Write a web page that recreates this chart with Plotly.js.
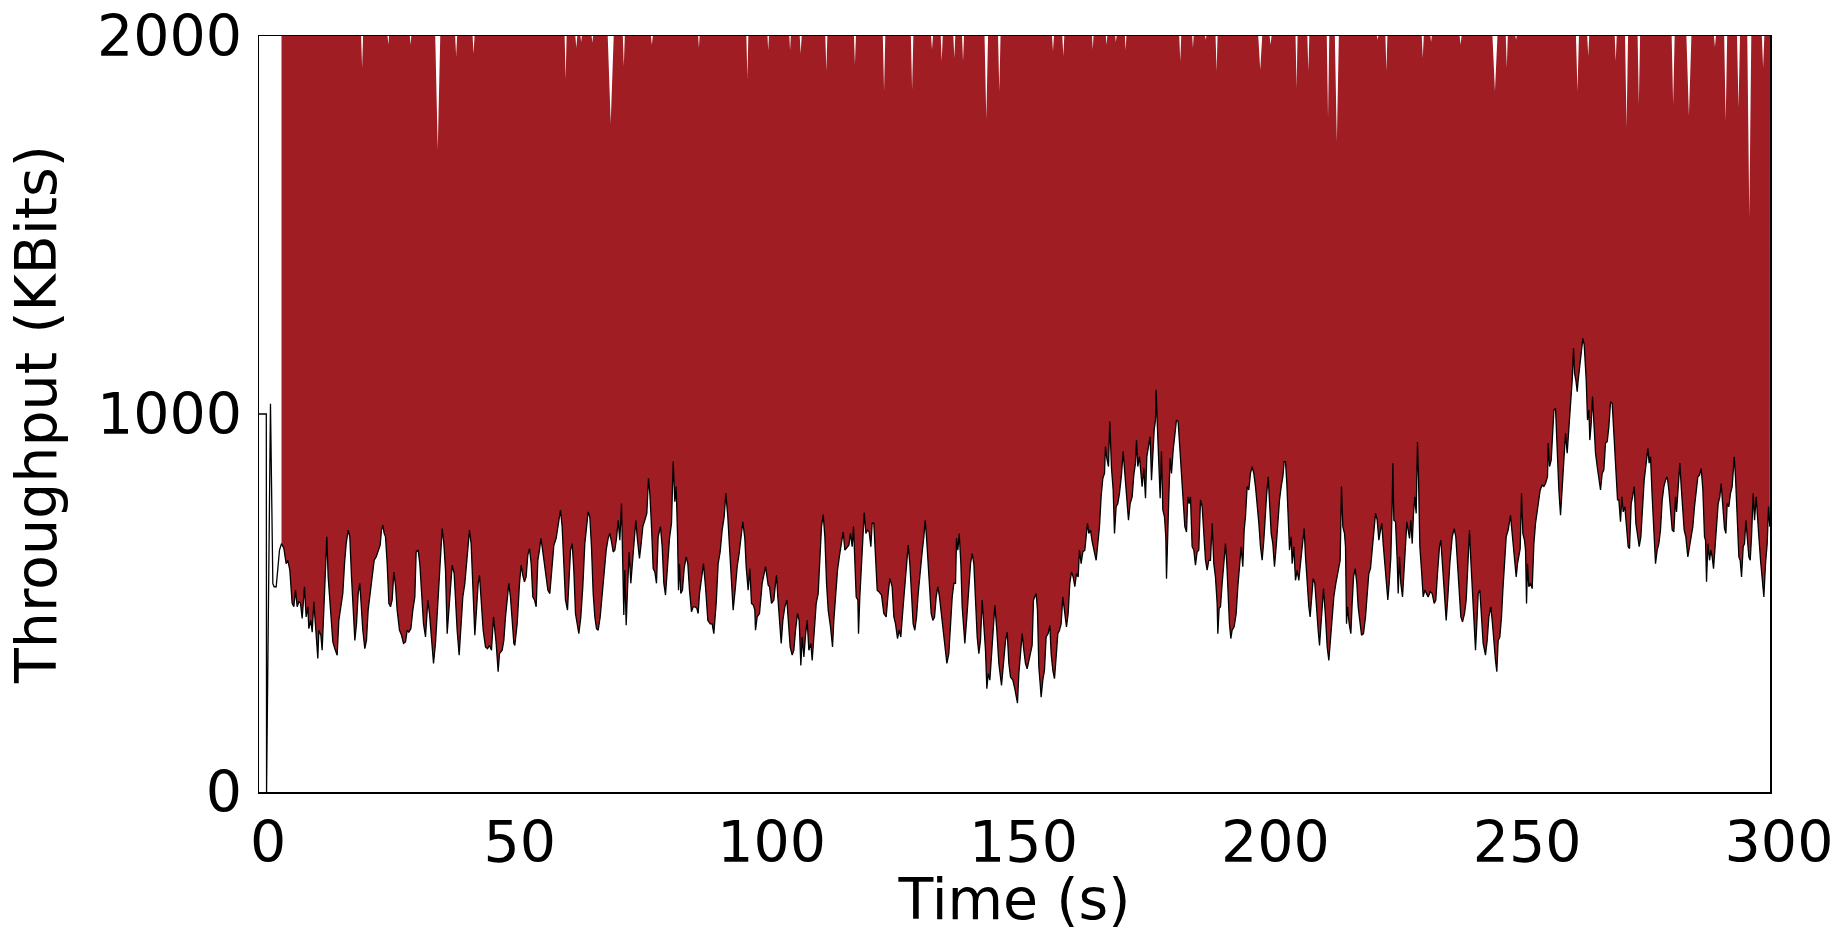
<!DOCTYPE html>
<html><head><meta charset="utf-8">
<script src="https://cdn.plot.ly/plotly-3.0.1.min.js"></script>
<style>html,body{margin:0;padding:0;background:#fff;}#chart{width:1840px;height:932px;}</style>
</head><body><div id="chart"></div>
<script>
// start-up phase (before the red band starts)
const startTime = [0, 1.45, 1.5, 2.28, 2.75, 3.0, 3.41, 3.8, 4.07];
const startKbit = [1000, 1000, 0, 1027, 551, 543, 543, 600, 640];

// lower envelope of throughput, seconds / KBits
const seg1Time = [4.47,4.93,5.39,5.72,6.12,6.58,6.92,7.25,7.58,7.91,
8.24,8.57,9.03,9.36,9.70,9.89,10.29,10.56,10.89,11.22,
11.68,11.88,12.28,12.54,12.87,13.20,13.47,13.73,14.20,14.66,
15.06,15.52,15.85,16.31,16.64,16.98,17.31,17.70,18.03,18.37,
18.70,19.03,19.36,19.69,20.02,20.35,20.61,21.01,21.34,21.67,
22.07,22.47,22.87,23.26,23.66,24.06,24.32,24.59,24.85,25.12,
25.45,25.78,26.11,26.44,26.77,27.10,27.43,27.90,28.29,28.69,
29.09,29.42,29.75,30.15,30.54,30.94,31.20,31.60,31.93,32.26,
32.66,33.06,33.52,33.85,34.25,34.65,35.04,35.37,35.70,36.03,
36.37,36.70,37.03,37.36,37.69,38.02,38.35,38.75,39.01,39.34,
39.74,40.14,40.47,40.87,41.20,41.53,41.79,42.12,42.45,42.85,
43.18,43.51,43.78,44.18,44.51,44.97,45.37,45.76,46.16,46.56,
46.82,47.09,47.48,47.75,48.28,48.61,48.94,49.34,49.60,49.93,
50.26,50.60];
const seg1Kbit = [657,645,604,613,587,499,490,534,490,503,
499,459,543,463,490,432,454,423,503,441,
353,428,415,375,490,587,675,569,472,397,
379,362,454,499,525,604,657,693,675,569,
463,401,445,525,552,472,428,379,401,481,
525,569,613,622,640,653,693,706,684,675,
604,499,490,508,582,547,481,428,415,393,
397,428,423,432,481,516,635,640,604,516,
445,410,508,472,393,340,393,463,534,622,
697,657,587,419,481,552,600,578,499,428,
362,454,516,552,604,675,693,657,534,415,
481,552,573,490,428,384,379,388,375,463,
428,393,318,366,375,401,463,516,552,516,
445,393];

const seg2Time = [50.79,51.26,51.72,52.05,52.38,52.71,53.04,53.37,53.71,54.04,
54.37,54.70,55.03,55.36,55.69,55.96,56.22,56.55,56.88,57.35,
57.74,58.07,58.54,59.00,59.40,59.86,60.19,60.52,60.85,61.25,
61.51,61.85,62.18,62.51,62.84,63.17,63.50,63.90,64.29,64.69,
65.02,65.35,65.68,66.01,66.35,66.68,67.01,67.34,67.74,68.13,
68.53,68.93,69.32,69.65,69.99,70.32,70.65,70.98,71.31,71.64,
71.97,72.24,72.43,72.63,72.90,73.16,73.49,73.82,74.16,74.49,
74.82,75.15,75.54,75.88,76.21,76.60,77.00,77.33,77.60,77.93,
78.26,78.59,78.92,79.25,79.71,80.05,80.38,80.71,81.04,81.50,
81.90,82.23,82.56,82.82,83.09,83.29,83.49,83.75,84.08,84.41,
84.81,85.14,85.47,85.87,86.20,86.53,86.93,87.19,87.46,87.85,
88.25,88.65,89.11,89.58,89.97,90.30,90.77,91.16,91.56,91.96,
92.35,92.69,93.08,93.41,93.81,94.14,94.60,94.94,95.33,95.73,
96.06,96.46,96.72,97.12,97.45,97.78,98.18,98.44,98.58,98.91,
99.37,99.90,100.43];
const seg2Kbit = [388,445,552,600,573,556,569,627,644,604,
516,508,490,613,640,671,649,613,591,534,
525,587,653,671,702,746,702,613,508,481,
552,640,657,587,472,445,419,463,543,657,
693,741,728,649,525,463,432,428,463,525,
596,640,671,684,662,635,640,671,719,666,
763,587,468,587,441,534,635,552,604,675,
719,666,618,657,702,719,737,830,790,702,
591,582,552,675,702,649,552,521,587,671,
711,874,768,808,684,534,604,525,534,591,
622,604,534,477,490,490,486,472,525,565,
604,543,454,445,445,419,499,604,635,693,
728,790,728,649,534,481,543,596,631,675,
715,671,596,534,591,499,494,481,428,463,
472,552,596];

const seg3Time = [100.57,101.10,101.36,101.76,102.22,102.55,102.75,103.01,103.35,103.68,
104.01,104.40,104.80,105.13,105.46,105.86,106.19,106.52,106.92,107.25,
107.58,107.85,108.18,108.51,108.84,109.17,109.57,109.83,110.23,110.63,
111.02,111.42,111.68,112.02,112.35,112.68,113.01,113.47,113.87,114.13,
114.46,114.86,115.26,115.65,115.99,116.32,116.78,117.11,117.44,117.77,
118.04,118.30,118.57,118.90,119.03,119.29,119.63,119.96,120.16,120.49,
120.82,121.15,121.48,121.74,122.07,122.41,122.74,123.07,123.60,124.06,
124.52,124.92,125.25,125.71,126.05,126.38,126.77,127.10,127.43,127.83,
128.23,128.56,128.89,129.22,129.55,129.88,130.21,130.55,130.88,131.27,
131.67,132.00,132.27,132.53,132.86,133.13,133.46,133.79,134.12,134.45,
134.78,135.11,135.51,135.84,136.17,136.57,136.96,137.30,137.63,137.96,
138.29,138.49,138.75,139.02,139.35,139.61,139.88,140.14,140.54,140.94,
141.27,141.60,141.93,142.26,142.59,142.92,143.25,143.58,143.91,144.24,
144.51,144.77,145.11,145.44,145.77,146.10,146.49,146.89,147.42,147.82,
148.22,148.55,148.88,149.21,149.67,150.07];
const seg3Kbit = [596,547,543,499,508,552,573,516,463,393,
454,490,508,454,384,362,375,428,472,454,
335,410,357,415,454,375,393,348,428,499,
525,622,702,734,675,552,481,437,384,454,
525,587,626,657,688,640,649,653,684,649,
702,622,516,508,419,516,613,702,739,684,
693,688,649,711,711,622,534,530,521,472,
463,525,565,543,463,445,406,428,410,481,
543,613,653,604,525,445,428,463,525,591,
635,675,719,675,604,516,472,454,463,516,
543,516,463,428,384,340,366,463,516,552,
552,671,640,684,604,490,445,393,463,552,
604,631,604,508,410,366,401,508,445,375,
273,313,296,357,428,494,428,340,282,348,
401,423,340,304,296,273];

const seg4Time = [150.20,150.59,150.86,151.19,151.52,151.85,152.18,152.51,152.84,153.17,
153.50,153.77,154.03,154.30,154.56,154.83,155.09,155.29,155.62,155.95,
156.28,156.68,157.01,157.28,157.61,157.94,158.27,158.60,158.93,159.26,
159.59,159.92,160.32,160.65,160.98,161.31,161.65,161.98,162.31,162.64,
162.90,163.23,163.56,163.96,164.23,164.49,164.76,165.09,165.42,165.75,
166.21,166.54,166.87,167.20,167.54,167.87,168.06,168.33,168.66,168.92,
169.26,169.59,169.85,170.18,170.51,170.84,171.24,171.57,171.90,172.23,
172.63,172.96,173.36,173.69,174.02,174.22,174.48,174.81,175.08,175.34,
175.68,176.01,176.27,176.67,176.93,177.20,177.46,177.73,177.99,178.12,
178.32,178.65,178.92,179.18,179.45,179.78,180.04,180.18,180.37,180.64,
180.90,181.17,181.50,181.83,182.16,182.49,182.82,183.15,183.48,183.82,
184.15,184.41,184.68,184.94,185.27,185.60,185.93,186.26,186.59,186.93,
187.26,187.59,187.92,188.25,188.58,188.91,189.24,189.57,189.90,190.23,
190.37,190.63,190.90,191.23,191.56,191.89,192.15,192.42,192.68,192.95,
193.21,193.61,194.01,194.34,194.67,195.00,195.33,195.60,195.86,196.19,
196.52,196.85,197.18,197.51,197.85,198.18,198.51,198.84,199.17,199.50,
199.70];
const seg4Kbit = [260,235,313,357,419,375,340,326,348,375,
388,508,516,525,481,331,287,251,296,322,
410,419,441,366,322,300,357,419,428,445,
516,481,437,472,552,582,569,543,578,569,
640,604,635,640,671,711,684,693,662,640,
613,657,702,781,830,843,914,883,861,980,
856,799,684,755,763,790,839,901,843,781,
719,763,781,839,870,931,861,887,843,808,
856,777,887,914,940,825,914,958,984,1064,
984,887,777,901,746,728,675,564,693,781,
883,843,904,940,984,980,914,843,773,702,
688,781,763,781,649,640,600,635,640,773,
755,675,613,587,613,613,711,604,569,499,
419,486,490,552,604,657,604,516,445,406,
428,437,472,543,587,649,596,693,728,808,
799,843,861,843,808,763,711,649,613,666,
719];

const seg5Time = [200.03,200.37,200.63,200.96,201.29,201.62,201.95,202.28,202.62,202.95,
203.28,203.54,203.81,204.07,204.34,204.60,204.93,205.13,205.46,205.79,
206.12,206.45,206.78,207.12,207.51,207.78,208.11,208.44,208.70,209.03,
209.30,209.63,209.96,210.29,210.56,210.82,211.09,211.35,211.75,212.08,
212.41,212.74,213.07,213.40,213.80,214.13,214.40,214.66,214.92,215.19,
215.52,215.72,215.92,216.12,216.45,216.78,217.04,217.31,217.64,217.97,
218.23,218.56,218.90,219.29,219.69,220.09,220.35,220.68,221.01,221.34,
221.68,222.01,222.34,222.67,222.93,223.20,223.53,223.86,224.12,224.39,
224.72,224.98,225.12,225.32,225.65,225.98,226.18,226.44,226.70,227.04,
227.37,227.63,227.90,228.16,228.43,228.69,228.96,229.22,229.48,229.75,
230.01,230.21,230.48,230.81,231.14,231.47,231.80,232.13,232.53,232.93,
233.32,233.65,233.98,234.38,234.65,234.98,235.31,235.71,236.04,236.43,
236.90,237.29,237.62,237.96,238.29,238.62,238.95,239.35,239.68,240.01,
240.34,240.60,240.93,241.26,241.53,241.79,242.06,242.39,242.72,243.05,
243.51,243.85,244.18,244.57,244.90,245.24,245.50,245.76,246.03,246.36,
246.69,246.96,247.29,247.62,248.01,248.48,248.81,249.34];
const seg5Kbit = [781,834,755,684,657,596,649,711,773,808,
834,874,874,816,711,640,675,604,649,560,
587,560,604,657,697,622,552,490,463,534,
565,552,481,428,388,437,481,538,463,384,
348,401,463,516,552,578,604,613,808,702,
684,649,445,490,445,419,499,569,591,552,
490,445,415,419,463,534,578,591,640,684,
737,719,666,693,711,657,604,534,508,552,
622,755,870,719,715,613,525,622,552,516,
604,675,715,693,671,719,657,737,781,737,
926,834,649,587,516,534,525,516,530,525,
499,508,578,649,666,604,534,454,516,604,
675,697,675,604,534,463,450,472,508,604,
693,613,516,428,375,445,525,534,472,393,
362,401,463,490,445,375,348,318,401,410,
463,534,604,675,693,732,684,604];

const seg6Time = [249.61,249.87,250.27,250.40,250.67,250.93,251.26,251.46,251.66,251.86,
252.12,252.45,252.78,253.12,253.45,253.78,254.11,254.37,254.77,255.10,
255.43,255.83,255.96,256.23,256.56,256.76,257.09,257.42,257.75,258.08,
258.41,258.74,259.07,259.40,259.73,260.06,260.40,260.73,260.99,261.19,
261.45,261.72,261.92,262.25,262.58,262.84,263.11,263.24,263.51,263.77,
264.04,264.23,264.50,264.76,265.03,265.36,265.69,266.02,266.35,266.68,
267.01,267.34,267.68,268.01,268.34,268.67,269.00,269.33,269.73,269.99,
270.32,270.59,270.85,271.18,271.51,271.84,272.11,272.44,272.71,273.04,
273.37,273.70,274.03,274.36,274.69,275.02,275.42,275.75,276.01,276.28,
276.61,276.87,277.27,277.60,277.93,278.26,278.60,278.93,279.26,279.59,
279.92,280.25,280.58,280.91,281.24,281.44,281.77,282.10,282.37,282.63,
282.96,283.29,283.69,284.02,284.35,284.68,285.01,285.35,285.68,286.01,
286.34,286.67,287.00,287.20,287.40,287.66,287.99,288.26,288.52,288.79,
289.05,289.38,289.71,290.04,290.31,290.64,290.97,291.24,291.50,291.83,
292.16,292.49,292.89,293.15,293.49,293.82,294.08,294.35,294.68,294.94,
295.21,295.47,295.80,296.07,296.33,296.66,296.93,297.26,297.52,297.79,
298.12,298.45,298.78,299.11,299.44,299.71,299.97];
const seg6Kbit = [569,604,640,644,790,684,666,640,499,604,
543,552,538,657,711,746,773,799,812,808,
816,834,923,861,878,931,1010,1015,887,799,
732,808,852,949,896,958,1046,1090,1174,1108,
1090,1059,1090,1134,1170,1200,1183,1156,1090,984,
1011,931,975,1046,975,896,861,825,799,843,
852,923,927,967,1032,1028,949,852,773,773,
715,781,741,755,711,649,644,763,781,808,
711,675,649,675,763,825,870,909,870,887,
781,693,604,640,657,693,773,808,825,834,
799,746,693,688,781,741,799,870,808,763,
693,675,622,649,675,702,755,790,834,838,
856,799,675,666,556,657,613,640,622,591,
640,719,763,781,816,755,697,684,763,755,
790,808,887,834,746,622,613,569,649,657,
719,675,622,613,675,790,719,781,711,675,
613,552,516,604,657,755,702];

// upper edge of the red band: it stays above 2000 except for short dips
const bandCeilingKbit = 2001;
const bandEndTime = 300;
const gapTime = [20.47,25.67,30.09,35.49,39.14,42.60,60.88,63.00,63.96,66.18,
69.83,72.43,78.0,87.34,96.96,101.1,105.44,107.55,112.64,118.32,
124.1,129.67,133.62,135.55,138.05,139.78,144.4,146.98,157.64,159.69,
165.54,168.28,170.13,172.07,182.91,185.43,187.97,190.12,198.79,200.84,
206.0,208.34,212.25,214.0,222.1,223.84,231.06,232.71,238.57,245.39,
247.74,249.58,261.77,263.91,269.37,271.52,273.96,280.77,283.9,289.07,
291.2,293.75,295.89,298.63];
const gapFloor = [1916,1977,1977,1700,1947,1953,1885,1969,1984,1982,
1770,1920,1977,1969,1889,1962,1962,1953,1907,1925,
1854,1858,1964,1933,1942,1933,1780,1854,1960,1947,
1964,1977,1984,1962,1933,1969,1990,1907,1911,1977,
1862,1907,1783,1720,1990,1907,1942,1984,1977,1854,
1916,1990,1854,1947,1933,1757,1819,1819,1790,1971,
1775,1810,1520,1916];
const gapHalfWidth = [0.2,0.15,0.15,0.5,0.2,0.2,0.2,0.2,0.15,0.15,
0.6,0.2,0.2,0.15,0.2,0.15,0.15,0.2,0.2,0.2,
0.25,0.25,0.2,0.2,0.2,0.2,0.35,0.25,0.2,0.2,
0.15,0.15,0.15,0.15,0.2,0.15,0.15,0.2,0.4,0.2,
0.2,0.2,0.25,0.4,0.15,0.2,0.2,0.15,0.2,0.5,
0.2,0.15,0.3,0.2,0.2,0.3,0.25,0.3,0.5,0.2,
0.3,0.3,0.4,0.25];

const xTicks = [0, 50, 100, 150, 200, 250, 300];
const yTicks = [0, 1000, 2000];

const bandTime = seg1Time.concat(seg2Time, seg3Time, seg4Time, seg5Time, seg6Time);
const bandKbit = seg1Kbit.concat(seg2Kbit, seg3Kbit, seg4Kbit, seg5Kbit, seg6Kbit);
const lineTime = startTime.concat(bandTime);
const lineKbit = startKbit.concat(bandKbit);

const upT = [bandTime[0]], upV = [bandCeilingKbit];
for (let i = 0; i < gapTime.length; i++) {
  upT.push(gapTime[i] - gapHalfWidth[i], gapTime[i], gapTime[i] + gapHalfWidth[i]);
  upV.push(bandCeilingKbit, gapFloor[i], bandCeilingKbit);
}
upT.push(bandEndTime); upV.push(bandCeilingKbit);

const RED = '#a11d24';
const FONT = {family: 'DejaVu Sans', size: 57, color: '#000'};

const traces = [
  {x: bandTime, y: bandKbit, mode: 'lines', line: {width: 0, color: 'rgba(0,0,0,0)'}, hoverinfo: 'skip', showlegend: false},
  {x: upT, y: upV, mode: 'lines', fill: 'tonexty', fillcolor: RED, line: {width: 0, color: 'rgba(0,0,0,0)'}, hoverinfo: 'skip', showlegend: false},
  {x: lineTime, y: lineKbit, mode: 'lines', line: {color: '#000', width: 1.3}, showlegend: false}
];

const layout = {
  width: 1840, height: 932,
  margin: {l: 259, r: 70, t: 36, b: 140},
  paper_bgcolor: '#fff', plot_bgcolor: '#fff',
  showlegend: false,
  xaxis: {
    range: [0, 300], tickvals: xTicks, ticktext: xTicks.map(String), ticks: '',
    showline: true, mirror: true, linecolor: '#000', linewidth: 1.5,
    showgrid: false, zeroline: false, tickfont: FONT, ticklabelstandoff: 0, ticklabelshift: 9,
    title: {text: 'Time (s)', font: FONT, standoff: 31}, automargin: false
  },
  yaxis: {
    range: [0, 2000], tickvals: yTicks, ticktext: yTicks.map(String), ticks: '',
    showline: true, mirror: true, linecolor: '#000', linewidth: 1.5,
    showgrid: false, zeroline: false, tickfont: FONT, ticklabelstandoff: 4,
    title: {text: 'Throughput (KBits)', font: FONT, standoff: 22}, automargin: false
  }
};

Plotly.newPlot('chart', traces, layout, {displayModeBar: false, staticPlot: true});
</script>
</body></html>
